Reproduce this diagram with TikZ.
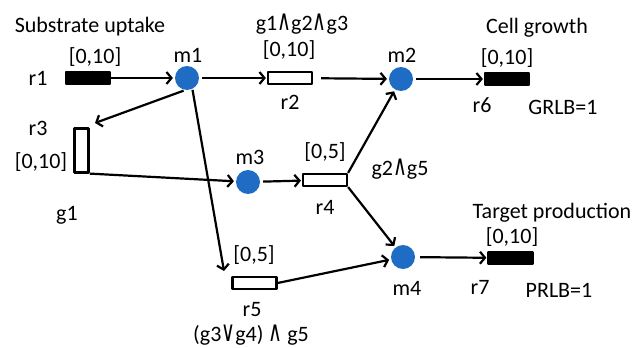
\documentclass[tikz,border=0pt]{standalone}
\usepackage{fontspec}
\setmainfont{Carlito}
\newfontfamily\opfont{DejaVu Sans}
\usetikzlibrary{arrows.meta}
\definecolor{metblue}{RGB}{30,108,196}
\newcommand{\gand}{\scalebox{1}[1.5]{\opfont\fontsize{19}{22}\selectfont ∧}}
\newcommand{\gor}{\scalebox{1}[1.5]{\opfont\fontsize{19}{22}\selectfont ∨}}
\begin{document}
\begin{tikzpicture}[x=1pt,y=-1pt,line join=round,>={Straight Barb[length=5pt,width=12pt]},line width=2.2pt]
\tikzset{every node/.style={font=\fontsize{22}{24}\selectfont,inner sep=0pt},
	met/.style={circle,fill=metblue,minimum size=24pt},
	rxn/.style={draw,rectangle,minimum width=44pt,minimum height=12pt},
	rxnon/.style={rxn,fill=black}}
\useasboundingbox (0,0) rectangle (635,348);
\foreach \n/\x/\y in {m1/187/78,m2/401/79,m3/248/182,m4/403/257}
\node[met] (\n) at (\x,\y) {};
\node[rxnon] (r1) at (88,78) {};
\node[rxn] (r2) at (290,78) {};
\node[rxn,minimum width=14pt,minimum height=44pt] (r3) at (81.5,150.5) {};
\node[rxn] (r4) at (325,180) {};
\node[rxn] (r5) at (254.5,283) {};
\node[rxnon] (r6) at (507,79) {};
\node[rxnon] (r7) at (510.5,258) {};
\node (subst) at (90,27) {Substrate uptake};
\node (growth) at (537,28) {Cell growth};
\node (target) at (552,213) {Target production};
\node (r1lab) at (38,78) {r1};
\node (r1bnd) at (95,57) {[0,10]};
\node (m1lab) at (188,55) {m1};
\node (r2gene) at (302,24) {g1\gand g2\gand g3};
\node (r2bnd) at (289,50) {[0,10]};
\node (r2lab) at (290,102) {r2};
\node (m2lab) at (402,55) {m2};
\node (r6bnd) at (507,58) {[0,10]};
\node (r6lab) at (482,105) {r6};
\node (grlb) at (563,107) {GRLB=1};
\node (r3lab) at (38,128) {r3};
\node (r3bnd) at (41,162) {[0,10]};
\node (r3gene) at (67,215) {g1};
\node (m3lab) at (250,157) {m3};
\node (r4bnd) at (325,152) {[0,5]};
\node (r4lab) at (325,207) {r4};
\node (r4gene) at (400,169) {g2\gand g5};
\node (r7bnd) at (512,237) {[0,10]};
\node (m4lab) at (407,288) {m4};
\node (r7lab) at (480,287) {r7};
\node (prlb) at (559,290) {PRLB=1};
\node (r5bnd) at (254,255) {[0,5]};
\node (r5lab) at (252,310) {r5};
\node (r5gene) at (251,335) {(g3\gor g4) \gand\ g5};
\coordinate (r3in) at (95,123);
\coordinate (r5in) at (224,271);
\draw[->,shorten >=1pt] (r1) -- (m1);
\draw[->,shorten >=1pt,shorten <=2pt] (m1) -- (r2);
\draw[->,shorten >=1pt,shorten <=8pt] (r2) -- (m2);
\draw[->,shorten >=1pt,shorten <=2pt] (m2) -- (r6);
\draw[->] (m1.-105) -- (r3in);
\draw[->] (m1.-65) -- (r5in);
\draw[->,shorten >=1pt] (r3.south east) -- (m3);
\draw[->,shorten >=1pt,shorten <=2pt] (m3) -- (r4);
\draw[->,shorten >=1pt] (r4.north east) -- (m2);
\draw[->,shorten >=1pt] (r4.south east) -- (m4);
\draw[->,shorten >=1pt] (r5.east) -- (m4);
\draw[->,shorten >=1pt,shorten <=4pt] (m4) -- (r7);
\end{tikzpicture}
\end{document}
